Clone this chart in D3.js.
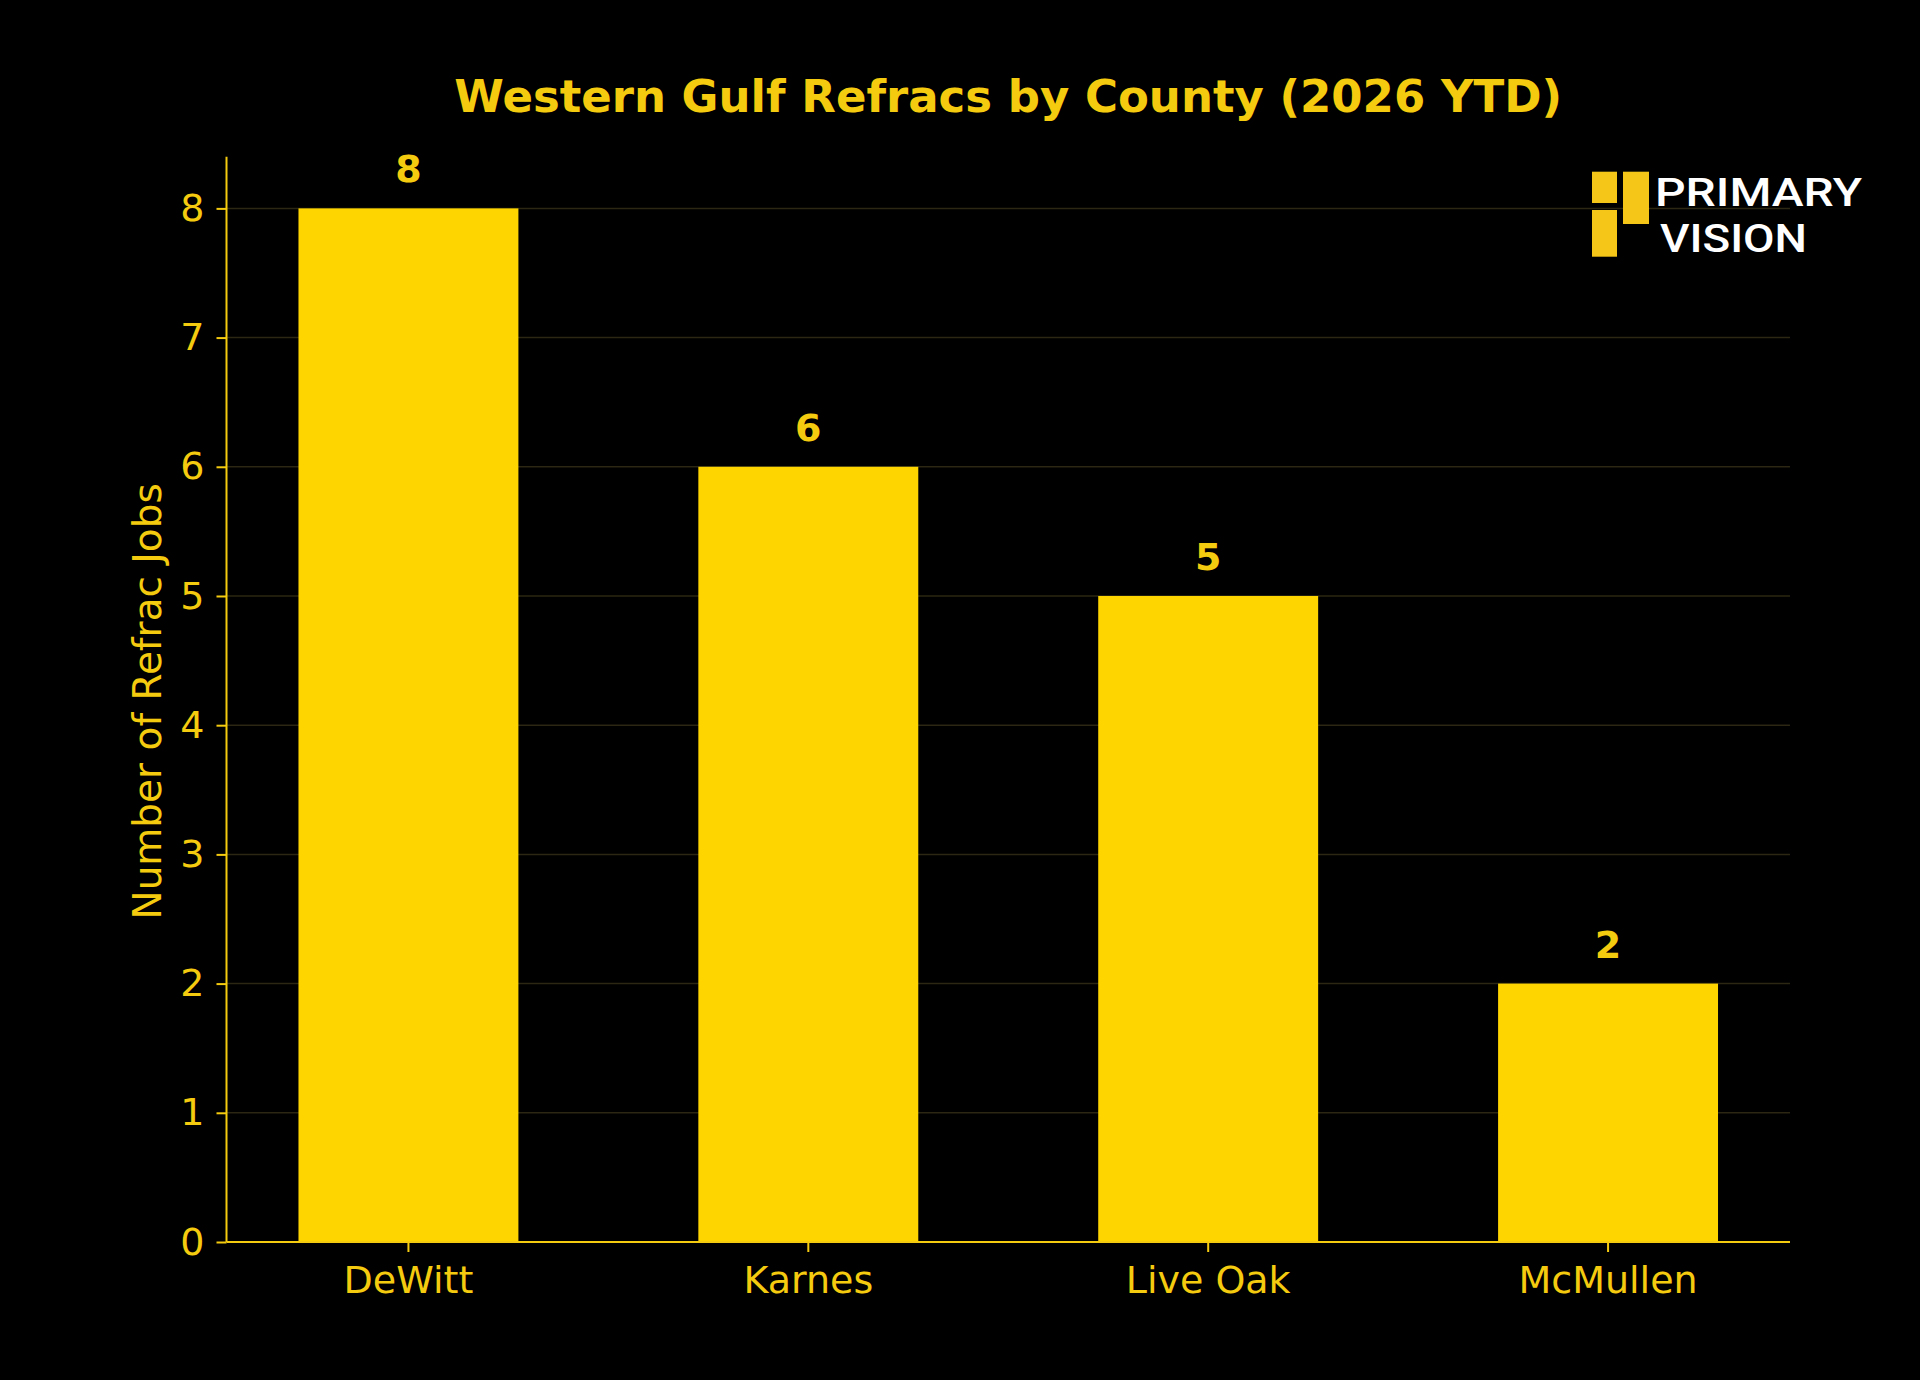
<!DOCTYPE html>
<html>
<head>
<meta charset="utf-8">
<script src="https://cdn.jsdelivr.net/npm/d3@7"></script>
<style>
  html, body { margin: 0; padding: 0; background: #000; }
  svg { display: block; }
</style>
</head>
<body>
<script>
const counties = ["DeWitt", "Karnes", "Live Oak", "McMullen"];
const refracJobs = [8, 6, 5, 2];
const yTicks = [0, 1, 2, 3, 4, 5, 6, 7, 8];
const titleText = "Western Gulf Refracs by County (2026 YTD)";
const yLabelText = "Number of Refrac Jobs";
const logoLines = ["PRIMARY", "VISION"];

const W = 1920, H = 1380;
const M = { left: 226.5, right: 1790, top: 156.7, bottom: 1242 };
const BAR = "#FFD500", TXT = "#F5CB0F", GRID = "#2b2712";
const FONT = "'DejaVu Sans', sans-serif";

const svg = d3.select("body").append("svg").attr("width", W).attr("height", H);
svg.append("rect").attr("width", W).attr("height", H).attr("fill", "#000");

const x = d3.scaleBand().domain(counties).range([M.left, M.right]).paddingInner(0.45).paddingOuter(0.18);
const y = d3.scaleLinear().domain([0, 8.4]).range([M.bottom, M.top]);

// grid
svg.append("g").selectAll("line").data(yTicks.filter(d => d > 0)).join("line")
  .attr("x1", M.left).attr("x2", M.right)
  .attr("y1", d => y(d)).attr("y2", d => y(d))
  .attr("stroke", GRID).attr("stroke-width", 1.5);

// bars
svg.append("g").selectAll("rect").data(counties).join("rect")
  .attr("x", d => x(d)).attr("width", x.bandwidth())
  .attr("y", (d, i) => y(refracJobs[i]))
  .attr("height", (d, i) => y(0) - y(refracJobs[i]))
  .attr("fill", BAR);

// value labels
svg.append("g").selectAll("text").data(counties).join("text")
  .attr("x", d => x(d) + x.bandwidth() / 2)
  .attr("y", (d, i) => y(refracJobs[i]) - 26)
  .attr("text-anchor", "middle")
  .attr("font-family", FONT).attr("font-weight", "bold").attr("font-size", 38)
  .attr("fill", TXT)
  .text((d, i) => refracJobs[i]);

// axes
const yAxis = svg.append("g").attr("transform", `translate(${M.left},0)`)
  .call(d3.axisLeft(y).tickValues(yTicks).tickSize(10).tickPadding(12).tickFormat(d3.format("d")));
const xAxis = svg.append("g").attr("transform", `translate(0,${M.bottom})`)
  .call(d3.axisBottom(x).tickSize(10).tickPadding(14));
[yAxis, xAxis].forEach(g => {
  g.selectAll(".domain").attr("stroke", TXT).attr("stroke-width", 2);
  g.selectAll(".tick line").attr("stroke", TXT).attr("stroke-width", 2);
  g.selectAll(".tick text").attr("fill", TXT).attr("font-family", FONT).attr("font-size", 38);
});
yAxis.select(".domain").attr("d", `M0,${M.bottom}V${M.top}`);
xAxis.select(".domain").attr("d", `M${M.left},0H${M.right}`);

// y label
svg.append("text")
  .attr("transform", `translate(146.7,${(M.top + M.bottom) / 2 + 2}) rotate(-90)`)
  .attr("text-anchor", "middle").attr("dy", "0.36em")
  .attr("font-family", FONT).attr("font-size", 39).attr("fill", TXT)
  .text(yLabelText);

// title
svg.append("text")
  .attr("x", (M.left + M.right) / 2).attr("y", 95.5).attr("dy", "0.36em")
  .attr("text-anchor", "middle")
  .attr("font-family", FONT).attr("font-weight", "bold").attr("font-size", 45)
  .attr("fill", TXT)
  .text(titleText);

// logo
const logo = svg.append("g");
const LOGO = "#F5C518";
logo.append("rect").attr("x", 1592).attr("y", 171.7).attr("width", 25).attr("height", 31.3).attr("fill", LOGO);
logo.append("rect").attr("x", 1592).attr("y", 210).attr("width", 25).attr("height", 46.7).attr("fill", LOGO);
logo.append("rect").attr("x", 1623).attr("y", 171.7).attr("width", 26).attr("height", 52.3).attr("fill", LOGO);
logo.append("text").attr("x", 1655).attr("y", 206)
  .attr("font-family", "Roboto, sans-serif").attr("font-weight", 500).attr("font-size", 38)
  .attr("textLength", 207).attr("lengthAdjust", "spacingAndGlyphs")
  .attr("fill", "#fff").text(logoLines[0]);
logo.append("text").attr("x", 1660).attr("y", 251.7)
  .attr("font-family", "Roboto, sans-serif").attr("font-weight", 500).attr("font-size", 38)
  .attr("textLength", 147).attr("lengthAdjust", "spacingAndGlyphs")
  .attr("fill", "#fff").text(logoLines[1]);
</script>
</body>
</html>
